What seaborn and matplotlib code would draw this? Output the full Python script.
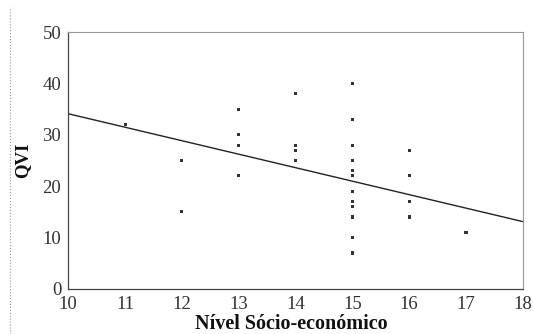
import numpy as np
import pandas as pd
import seaborn as sns
from matplotlib import pyplot as plt
from matplotlib.lines import Line2D

# data
nivel = [11,
         12, 12,
         13, 13, 13, 13,
         14, 14, 14, 14,
         15, 15, 15, 15, 15, 15, 15, 15, 15, 15, 15, 15,
         16, 16, 16, 16,
         17]
qvi = [32,
       25, 15,
       35, 30, 28, 22,
       38, 28, 27, 25,
       40, 33, 28, 25, 23, 22, 19, 17, 16, 14, 10, 7,
       27, 22, 17, 14,
       11]

# regression line end points (as drawn)
fit_x = [10, 18]
fit_y = [34.1, 13.1]

x_ticks = [10, 11, 12, 13, 14, 15, 16, 17, 18]
y_ticks = [0, 10, 20, 30, 40, 50]

df = pd.DataFrame({'nivel': nivel, 'qvi': qvi})
fit = pd.DataFrame({'x': fit_x, 'y': fit_y})

sns.set_style('white')
plt.rcParams['font.family'] = ['Liberation Serif', 'DejaVu Serif']

fig = plt.figure(figsize=(5.33, 3.34), dpi=100)
ax = fig.add_axes([0.128, 0.135, 0.853, 0.769])

sns.lineplot(data=fit, x='x', y='y', color='#222222', linewidth=1.0, ax=ax)
sns.scatterplot(data=df, x='nivel', y='qvi', marker='s', s=5, color='#333333',
                edgecolor='none', ax=ax)

ax.set_xlim(10, 18)
ax.set_ylim(0, 50)
ax.set_xticks(x_ticks)
ax.set_yticks(y_ticks)
ax.tick_params(direction='in', length=5, width=0.6, color='#777777',
               labelsize=13.5, labelcolor='#333333', pad=5)

for side in ['left', 'bottom']:
    ax.spines[side].set_color('#444444')
    ax.spines[side].set_linewidth(0.9)
for side in ['top', 'right']:
    ax.spines[side].set_visible(True)
    ax.spines[side].set_color('#999999')
    ax.spines[side].set_linewidth(0.8)

ax.set_xlabel('Nível Sócio-económico', fontsize=14.5, fontweight='bold',
              color='#111111', va='center')
ax.xaxis.set_label_coords(0.49, -0.135)
ax.set_ylabel('QVI', fontsize=13.5, fontweight='bold', color='#111111',
              labelpad=8)

# page edge line on the left
fig.add_artist(Line2D([0.019, 0.019], [0.0, 0.98], transform=fig.transFigure,
                      color='#999999', linewidth=0.8, linestyle=':'))

fig.savefig('out.png', dpi=100)
